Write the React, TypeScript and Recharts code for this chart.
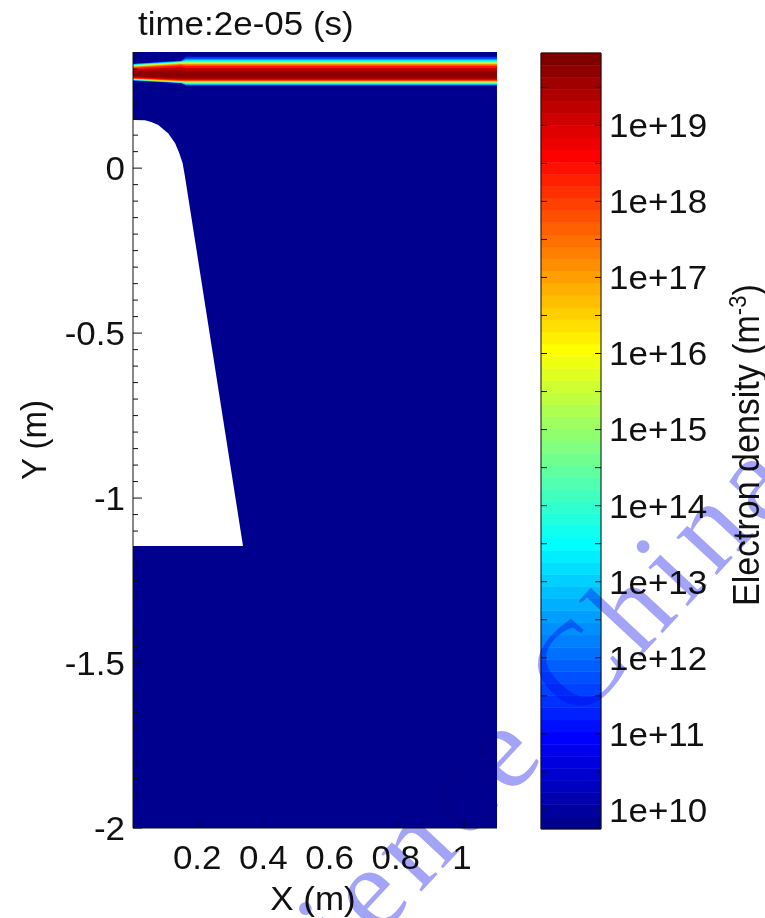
import React from 'react';
import { ComposedChart, Area, XAxis, YAxis, CartesianGrid, ReferenceArea, Label } from 'recharts';

const FONT = '"Liberation Sans", Arial, Helvetica, sans-serif';
const SERIF = '"Liberation Serif", "DejaVu Serif", serif';
const INK = '#111';
const STRETCH = 1.06;

// texts
const titleText = 'time:2e-05 (s)';
const xLabel = 'X (m)';
const yLabel = 'Y (m)';
const cbLabel = 'Electron density (m';
const cbLabelExp = '-3';
const watermark = 'Science China';

// axes of the field plot (metres)
const xDomain: [number, number] = [0, 1.1];
const yDomain: [number, number] = [-2, 0.352];
const xTicks = [0.2, 0.4, 0.6, 0.8, 1];
const yMajorTicks = [0, -0.5, -1, -1.5, -2];
const yMinorTicks = Array.from({ length: 48 }, (_, i) => Math.round((-2 + i * 0.05) * 100) / 100);

// white insulator body: top edge against x, flat bottom
const bodyX = [0, 0.036, 0.055, 0.0765, 0.106, 0.127, 0.14, 0.15, 0.157, 0.3324];
const bodyTop = [0.146, 0.145, 0.14, 0.131, 0.106, 0.076, 0.045, 0.015, -0.025, -1.145];
const bodyBottom = -1.145;

// discharge band near the top: log10(ne) contour levels, upper / lower limits at bandX
const bandX = [0, 0.145, 0.16, 1.1];
const bandLevels = [11, 12, 13, 14, 15, 16, 17, 18, 19, 19.5];
const bandTop = [
  [0.3162, 0.3253, 0.3374, 0.3374],
  [0.3153, 0.3244, 0.3314, 0.3314],
  [0.3141, 0.3232, 0.3268, 0.3268],
  [0.3126, 0.3217, 0.3238, 0.3238],
  [0.3111, 0.3198, 0.3208, 0.3208],
  [0.3095, 0.3177, 0.3177, 0.3177],
  [0.3071, 0.3153, 0.3147, 0.3147],
  [0.3041, 0.3117, 0.3101, 0.3101],
  [0.2995, 0.3056, 0.3026, 0.3026],
  [0.295, 0.2965, 0.295, 0.295],
];
const bandBottom = [
  [0.2647, 0.2571, 0.2495, 0.2495],
  [0.2656, 0.258, 0.2519, 0.2519],
  [0.2668, 0.2589, 0.2544, 0.2544],
  [0.2677, 0.2598, 0.2568, 0.2568],
  [0.2686, 0.261, 0.2592, 0.2592],
  [0.2695, 0.2622, 0.261, 0.261],
  [0.2707, 0.2638, 0.2632, 0.2632],
  [0.2722, 0.2656, 0.2656, 0.2656],
  [0.2744, 0.2686, 0.2686, 0.2686],
  [0.2774, 0.2722, 0.2722, 0.2722],
];

// colour bar (log10 of m^-3)
const cbRange: [number, number] = [9.75, 19.95];
const cbTicks = [10, 10.5, 11, 11.5, 12, 12.5, 13, 13.5, 14, 14.5, 15, 15.5, 16, 16.5, 17, 17.5, 18, 18.5, 19, 19.5];

// matlab jet(64)
const jet = (() => {
  const n = 64;
  const m = 16;
  const u = [
    ...Array.from({ length: m }, (_, i) => (i + 1) / m),
    ...Array(m - 1).fill(1),
    ...Array.from({ length: m }, (_, i) => (m - i) / m),
  ];
  const J = Array.from({ length: n }, () => [0, 0, 0]);
  u.forEach((val, k) => {
    const g = 8 + k + 1;
    if (g <= n) J[g - 1][1] = val;
    if (g + m <= n) J[g + m - 1][0] = val;
    if (g - m >= 1) J[g - m - 1][2] = val;
  });
  return J.map(([r, g, b]) => `rgb(${Math.round(r * 255)},${Math.round(g * 255)},${Math.round(b * 255)})`);
})();

const colorOf = (v: number) => {
  const t = (v - cbRange[0]) / (cbRange[1] - cbRange[0]);
  return jet[Math.max(0, Math.min(63, Math.floor(t * 64)))];
};

const cbSteps = jet.map((c, k) => ({
  lo: cbRange[0] + (k * (cbRange[1] - cbRange[0])) / 64,
  hi: cbRange[0] + ((k + 1) * (cbRange[1] - cbRange[0])) / 64,
  color: c,
}));

const allX = Array.from(new Set([...bodyX, ...bandX])).sort((a, b) => a - b);
const plotData = allX.map((x) => {
  const row: Record<string, unknown> = { x };
  const bi = bodyX.indexOf(x);
  row.body = bi >= 0 ? [bodyBottom, bodyTop[bi]] : [null, null];
  const ki = bandX.indexOf(x);
  bandLevels.forEach((_, li) => {
    row[`band${li}`] = ki >= 0 ? [bandBottom[li][ki], bandTop[li][ki]] : [null, null];
  });
  return row;
});

const textProps = { fontFamily: FONT, fontSize: 33, fill: INK };

const YTick = (props: any) => {
  const { x, y, payload } = props;
  const v = payload.value as number;
  const major = yMajorTicks.some((t) => Math.abs(t - v) < 1e-6);
  return (
    <g>
      <line x1={x} x2={x + (major ? 9 : 5)} y1={y} y2={y} stroke={INK} strokeWidth={1} />
      {major && (
        <text transform={`translate(${x - 8},${y}) scale(${STRETCH},1)`} textAnchor="end" dy="0.36em" {...textProps}>
          {v === 0 ? '0' : String(v)}
        </text>
      )}
    </g>
  );
};

const XTick = (props: any) => {
  const { x, y, payload } = props;
  return (
    <g>
      <line x1={x} x2={x} y1={y} y2={y - 9} stroke={INK} strokeWidth={1} />
      <text transform={`translate(${x - 2},${y + 41}) scale(${STRETCH},1)`} textAnchor="middle" {...textProps}>
        {String(payload.value)}
      </text>
    </g>
  );
};

const CbRightTick = (props: any) => {
  const { x, y, payload } = props;
  const v = payload.value as number;
  const major = Number.isInteger(v);
  return (
    <g>
      <line x1={x - 6} x2={x} y1={y} y2={y} stroke={INK} strokeWidth={1} />
      {major && (
        <text transform={`translate(${x + 8},${y}) scale(${STRETCH},1)`} textAnchor="start" dy="0.36em" {...textProps}>
          {`1e+${v}`}
        </text>
      )}
    </g>
  );
};

const CbLeftTick = (props: any) => {
  const { x, y } = props;
  return <line x1={x} x2={x + 6} y1={y} y2={y} stroke={INK} strokeWidth={1} />;
};

export default function App() {
  return (
    <div style={{ position: 'absolute', left: 0, top: 0, width: 765, height: 918, background: '#fff', overflow: 'hidden' }}>
      <div style={{ position: 'absolute', left: 0, top: 0 }}>
        <ComposedChart width={520} height={918} data={plotData} margin={{ top: 52, right: 23, bottom: 0, left: 0 }}>
          <CartesianGrid horizontal={false} vertical={false} fill={jet[0]} fillOpacity={1} />
          <XAxis
            dataKey="x"
            type="number"
            domain={xDomain}
            ticks={xTicks}
            allowDataOverflow
            height={90}
            tickSize={0}
            tickMargin={0}
            tick={<XTick />}
            axisLine={{ stroke: INK }}
          >
            <Label
              content={() => (
                <text transform={`translate(313,910) scale(${STRETCH},1)`} textAnchor="middle" {...textProps}>
                  {xLabel}
                </text>
              )}
            />
          </XAxis>
          <XAxis xAxisId="top" orientation="top" type="number" domain={xDomain} height={0} tick={false} tickLine={false} axisLine={{ stroke: INK }} />
          <YAxis
            type="number"
            domain={yDomain}
            ticks={yMinorTicks}
            allowDataOverflow
            width={133}
            tickSize={0}
            tickMargin={0}
            tick={<YTick />}
            interval={0}
            axisLine={{ stroke: INK }}
          >
            <Label
              content={() => (
                <text transform={`translate(46,440) scale(${STRETCH},1) rotate(-90)`} textAnchor="middle" {...textProps}>
                  {yLabel}
                </text>
              )}
            />
          </YAxis>
          <YAxis yAxisId="right" orientation="right" type="number" domain={yDomain} width={0} tick={false} tickLine={false} axisLine={{ stroke: INK }} />
          {bandLevels.map((lv, li) => (
            <Area
              key={`band${li}`}
              dataKey={`band${li}`}
              type="linear"
              stroke="none"
              fill={colorOf(li + 1 < bandLevels.length ? (lv + bandLevels[li + 1]) / 2 : (lv + cbRange[1]) / 2)}
              fillOpacity={1}
              connectNulls
              dot={false}
              activeDot={false}
              isAnimationActive={false}
            />
          ))}
          <Area
            dataKey="body"
            type="linear"
            stroke="none"
            fill="#ffffff"
            fillOpacity={1}
            connectNulls
            dot={false}
            activeDot={false}
            isAnimationActive={false}
          />
        </ComposedChart>
      </div>

      <div style={{ position: 'absolute', left: 520, top: 0 }}>
        <ComposedChart width={245} height={918} data={[{ x: 0 }, { x: 1 }]} margin={{ top: 53, right: 0, bottom: 89, left: 0 }}>
          <XAxis dataKey="x" type="number" domain={[0, 1]} hide />
          <YAxis yAxisId="cbl" orientation="left" type="number" domain={cbRange} ticks={cbTicks} interval={0} width={21} tickSize={0} tickMargin={0} tick={<CbLeftTick />} axisLine={false} allowDataOverflow />
          <YAxis orientation="right" type="number" domain={cbRange} ticks={cbTicks} interval={0} width={164} tickSize={0} tickMargin={0} tick={<CbRightTick />} axisLine={false} allowDataOverflow>
            <Label
              content={() => (
                <text transform={`translate(239,606) scale(${STRETCH},1) rotate(-90)`} textAnchor="start" {...textProps} fontSize={34}>
                  {cbLabel}
                  <tspan dy={-12} fontSize={22}>{cbLabelExp}</tspan>
                  <tspan dy={12}>)</tspan>
                </text>
              )}
            />
          </YAxis>
          {cbSteps.map((s, k) => (
            <ReferenceArea key={k} x1={0} x2={1} y1={s.lo} y2={s.hi} fill={s.color} fillOpacity={1} stroke={s.color} strokeWidth={0.6} />
          ))}
          <ReferenceArea x1={0} x2={1} y1={cbRange[0]} y2={cbRange[1]} fill="none" stroke={INK} strokeWidth={1} />
        </ComposedChart>
      </div>

      <svg width={765} height={918} style={{ position: 'absolute', left: 0, top: 0, pointerEvents: 'none' }}>
        <text transform={`translate(138,35) scale(${STRETCH},1)`} {...textProps}>
          {titleText}
        </text>
      </svg>

      <svg width={765} height={918} style={{ position: 'absolute', left: 0, top: 0, pointerEvents: 'none', mixBlendMode: 'multiply' }}>
        <text transform="translate(254,1071) rotate(-47)" fontFamily={SERIF} fontSize={120} letterSpacing={9} fill="#a3a3f7">
          {watermark}
        </text>
      </svg>
    </div>
  );
}
